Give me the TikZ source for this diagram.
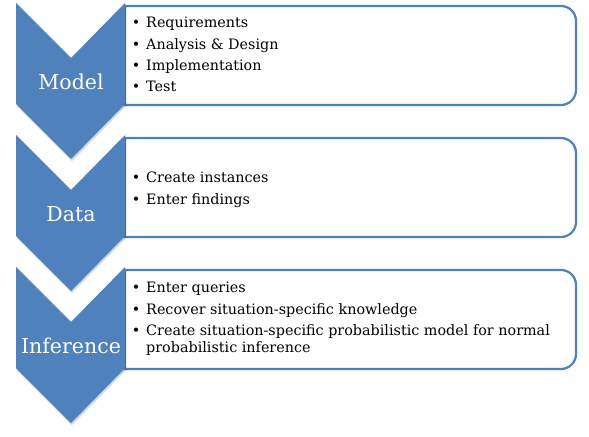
\documentclass[tikz,border=0pt]{standalone}
\usepackage{fontspec}
\setmainfont{DejaVu Serif}
\definecolor{accent}{HTML}{4F81BD}
\newcommand{\chevpath}[1]{(16,#1) -- (71,#1+55) -- (125,#1) -- (125,#1+101) -- (71,#1+156) -- (16,#1+101) -- cycle}
\begin{document}
\begin{tikzpicture}[x=1bp,y=-1bp,
  chev/.style={fill=accent},
  shad/.style={fill=black,opacity=0.10},
  listbox/.style={draw=accent,line width=2.2bp,fill=white},
  lbl/.style={text=white,font=\fontsize{20.6}{21}\selectfont,anchor=base,inner sep=0},
  itm/.style={font=\fontsize{14.4}{16}\selectfont,anchor=base west,inner sep=0},
  bul/.style={font=\fontsize{14.4}{16}\selectfont,anchor=base,inner sep=0}]
\useasboundingbox (0,0) rectangle (589,437);
% boxes
\foreach \t in {3,135,267}{
  \draw[listbox] (125,\t+3) -- (561,\t+3) arc[start angle=-90,end angle=0,radius=15]
     -- (576,\t+87) arc[start angle=0,end angle=90,radius=15] -- (125,\t+102) -- cycle;
}
% chevron shadows and chevrons
\foreach \t in {3,135,267}{
  \fill[shad,xshift=1bp,yshift=-2.5bp] \chevpath{\t};
  \fill[shad,xshift=0.5bp,yshift=-1.5bp] \chevpath{\t};
  \fill[chev] \chevpath{\t};
}
% labels
\node[lbl] (model) at (71,89.5) {Model};
\node[lbl] (data) at (71,221.8) {Data};
\node[lbl] (inference) at (71,353) {Inference};
% box 1
\node[bul] (b11) at (136,27.7) {\textbullet};
\node[itm] (t11) at (146,27.7) {Requirements};
\node[bul] (b12) at (136,49.2) {\textbullet};
\node[itm] (t12) at (146,49.2) {Analysis \& Design};
\node[bul] (b13) at (136,70.6) {\textbullet};
\node[itm] (t13) at (146,70.6) {Implementation};
\node[bul] (b14) at (136,91.8) {\textbullet};
\node[itm] (t14) at (146,91.8) {Test};
% box 2
\node[bul] (b21) at (136,182.7) {\textbullet};
\node[itm] (t21) at (146,182.7) {Create instances};
\node[bul] (b22) at (136,204.2) {\textbullet};
\node[itm] (t22) at (146,204.2) {Enter findings};
% box 3
\node[bul] (b31) at (136,292.7) {\textbullet};
\node[itm] (t31) at (146,292.7) {Enter queries};
\node[bul] (b32) at (136,314.3) {\textbullet};
\node[itm] (t32) at (146,314.3) {Recover situation-specific knowledge};
\node[bul] (b33) at (136,335.3) {\textbullet};
\node[itm] (t33) at (146,335.3) {Create situation-specific probabilistic model for normal};
\node[itm] (t34) at (146,352.8) {probabilistic inference};
\end{tikzpicture}
\end{document}
